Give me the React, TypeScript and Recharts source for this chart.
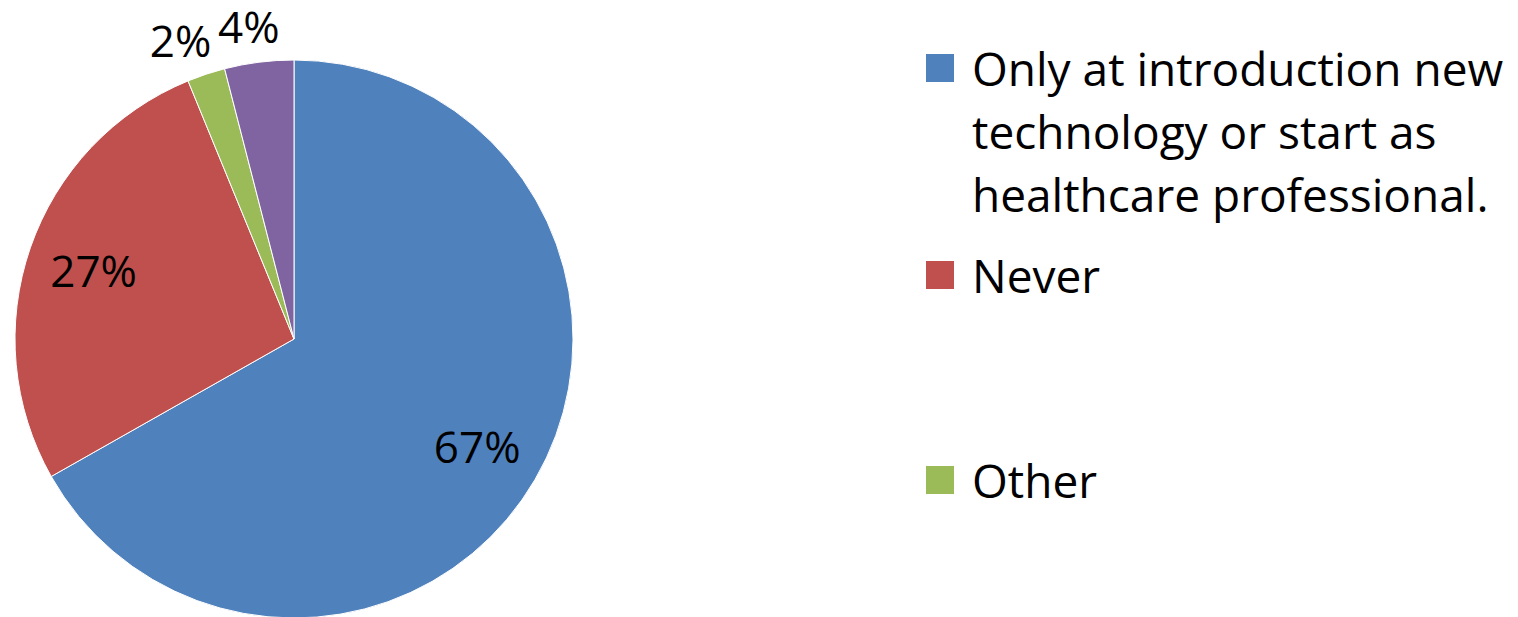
import { Cell, Legend, Pie, PieChart } from 'recharts'

const categories = [
  'Only at introduction new technology or start as healthcare professional.',
  'Never',
  'Other',
  'Not stated',
]
const shares = [66.8, 27.0, 2.2, 4.0]
const colors = ['#4F81BD', '#C0504D', '#9BBB59', '#8064A2']

const data = categories.map((name, i) => ({ name, value: shares[i] }))

const FONT = '"Open Sans", sans-serif'
const RAD = Math.PI / 180
// vertical offsets of the legend rows (only the first three fit on screen)
const legendTops = [0, 207, 412]

const renderLabel = (props: any) => {
  const { cx, cy, midAngle, outerRadius, percent } = props
  const small = percent < 0.05
  const r = outerRadius * (small ? 1.13 : 0.76)
  const cos = Math.cos(-midAngle * RAD)
  const sin = Math.sin(-midAngle * RAD)
  // small slices get their label pushed outward and a little sideways
  const x = cx + r * cos + (small ? cos * 45 : 0)
  const y = cy + r * sin
  return (
    <text
      x={x}
      y={y}
      textAnchor='middle'
      dominantBaseline='central'
      fontSize={44}
      fontFamily={FONT}
      fill='#000'
    >
      {`${Math.round(percent * 100)}%`}
    </text>
  )
}

const renderLegend = () => (
  <div style={{ position: 'relative', width: 580, height: 560 }}>
    {categories.slice(0, 3).map((name, i) => (
      <div
        key={name}
        style={{ position: 'absolute', left: 0, top: legendTops[i], display: 'flex' }}
      >
        <div
          style={{
            width: 28,
            height: 28,
            background: colors[i],
            marginTop: 17,
            marginRight: 18,
            flex: 'none',
          }}
        />
        <div
          style={{
            width: 545,
            fontFamily: FONT,
            fontSize: 46,
            lineHeight: '63px',
            color: '#000',
          }}
        >
          {name}
        </div>
      </div>
    ))}
  </div>
)

export default function App() {
  return (
    <div
      style={{
        position: 'fixed',
        top: 0,
        left: 0,
        width: 1518,
        height: 617,
        overflow: 'hidden',
        background: '#fff',
      }}
    >
      <PieChart width={1518} height={617} margin={{ top: 0, right: 0, bottom: 0, left: 0 }}>
        <Pie
          data={data}
          dataKey='value'
          nameKey='name'
          cx={294}
          cy={339}
          outerRadius={279}
          startAngle={90}
          endAngle={-270}
          stroke='#fff'
          strokeWidth={1}
          label={renderLabel}
          labelLine={false}
          isAnimationActive={false}
        >
          {data.map((d, i) => (
            <Cell key={d.name} fill={colors[i]} />
          ))}
        </Pie>
        <Legend
          content={renderLegend}
          wrapperStyle={{ position: 'absolute', left: 926, top: 37, width: 580 }}
        />
      </PieChart>
    </div>
  )
}
